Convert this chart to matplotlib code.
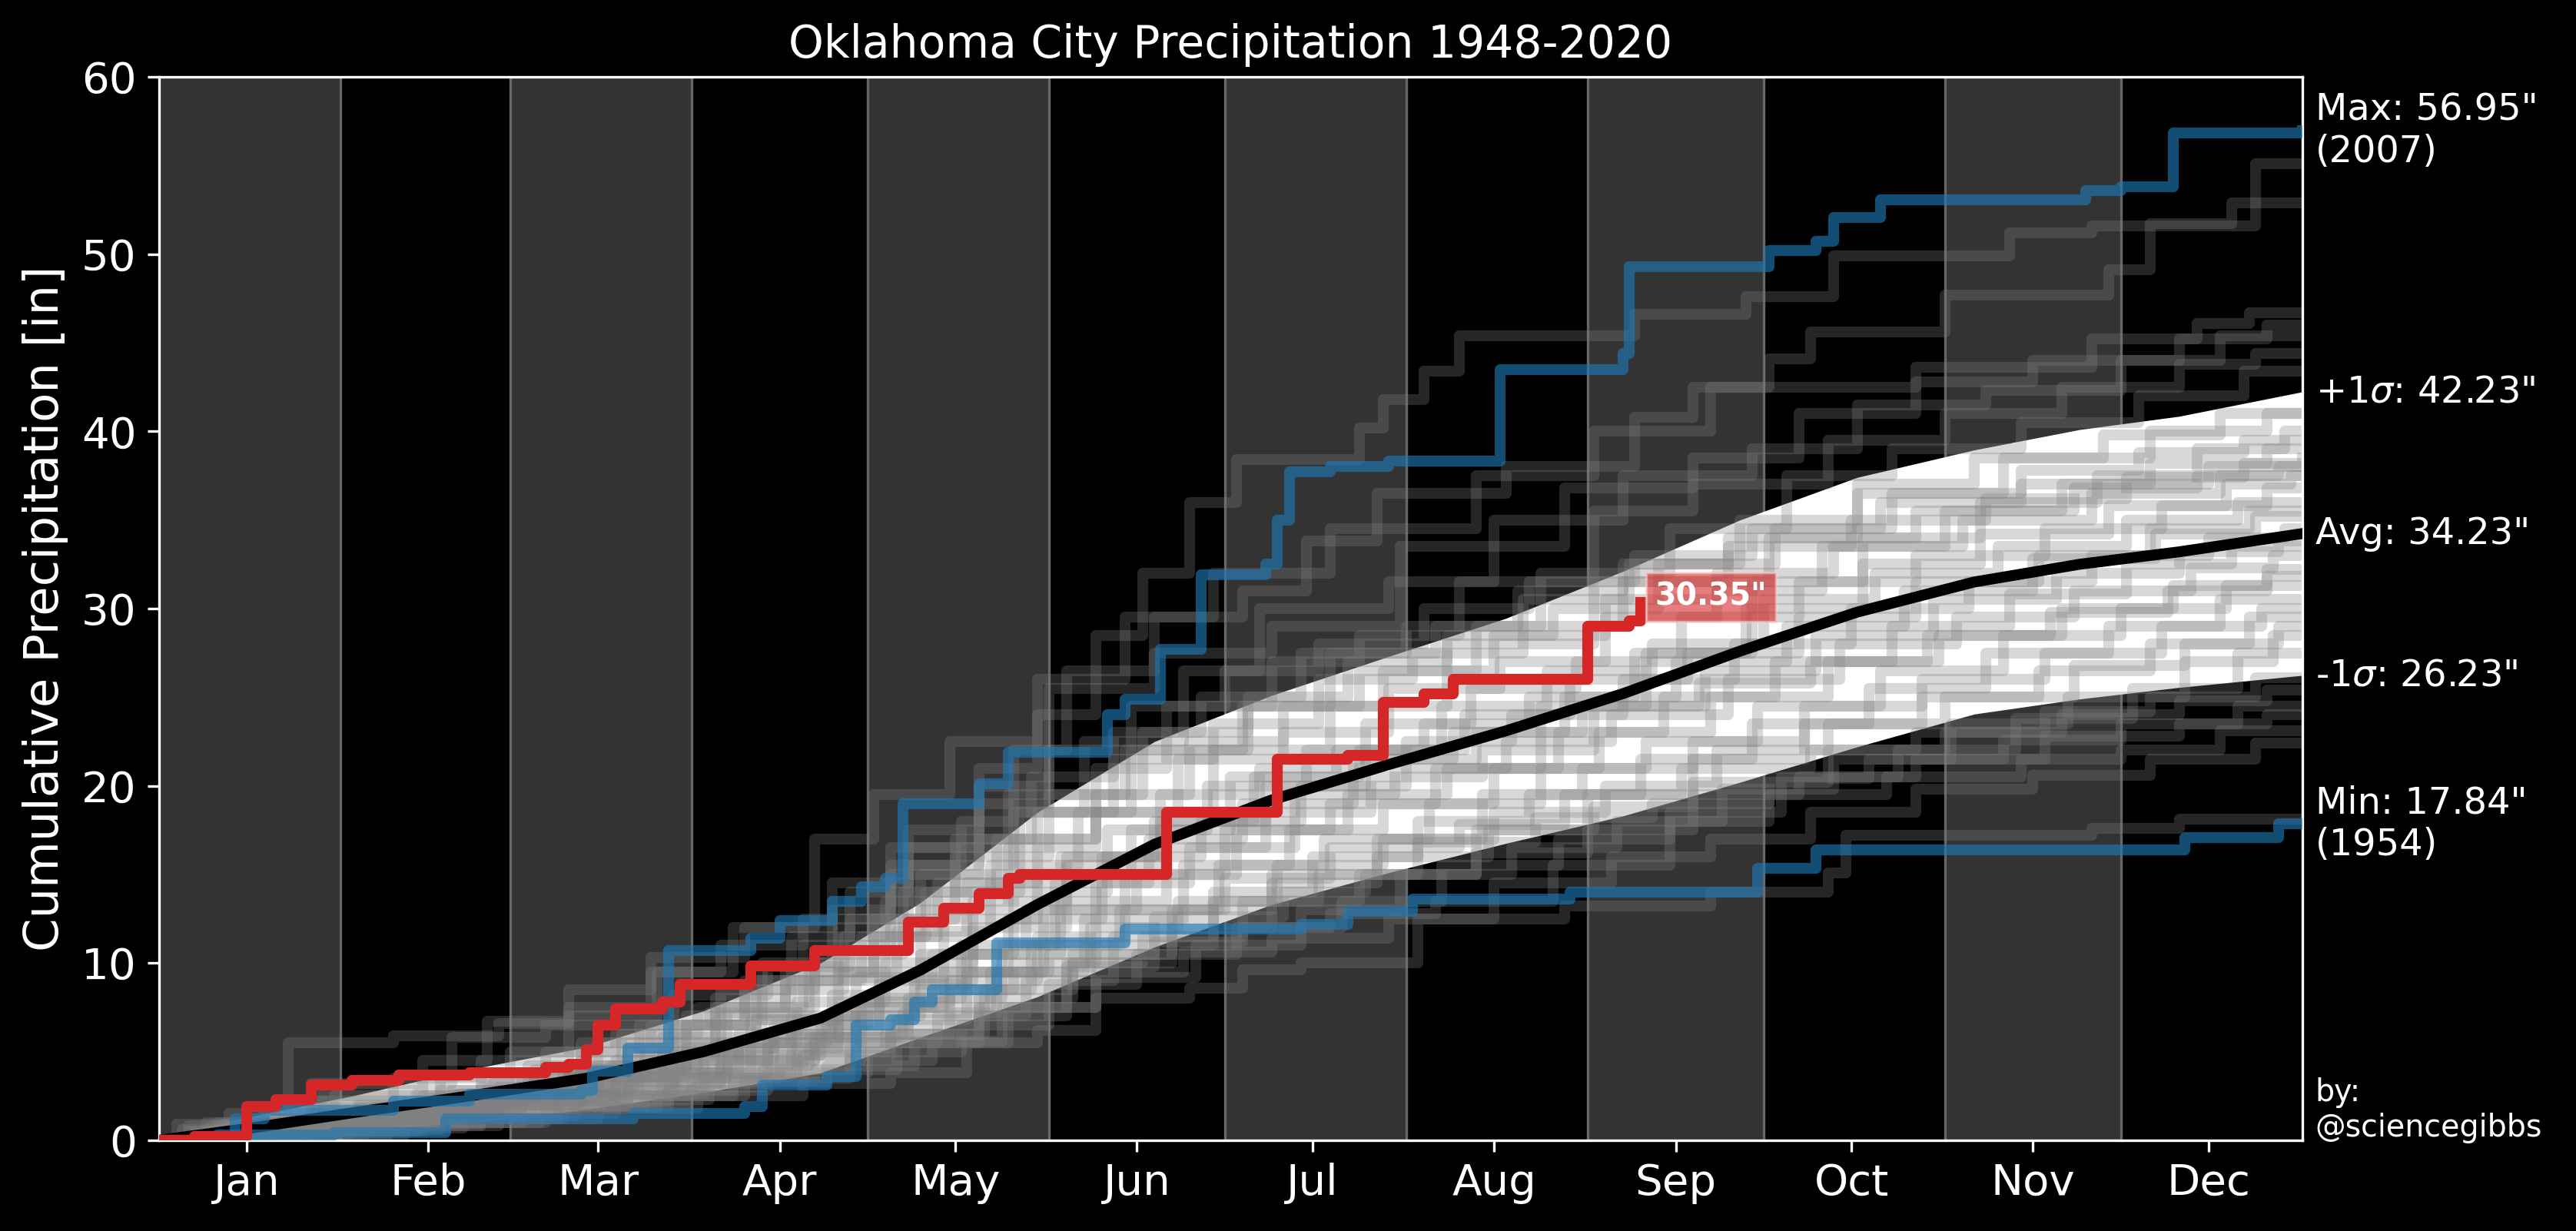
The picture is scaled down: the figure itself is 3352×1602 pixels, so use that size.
"""
Cumulative yearly precipitation for Oklahoma City, 1948-2020.
Every year as a faint gray step line, the mean +/- 1 std band in white,
the wettest / driest years in blue and the current year in red.
Values are day-of-year (0 = Jan 1) vs. cumulative inches.
"""
import numpy as np
import matplotlib.pyplot as plt

months = ['Jan', 'Feb', 'Mar', 'Apr', 'May', 'Jun',
          'Jul', 'Aug', 'Sep', 'Oct', 'Nov', 'Dec']
month_starts = [0, 31, 60, 91, 121, 152, 182, 213, 244, 274, 305, 335, 366]

# mean and standard deviation of the cumulative total
avg_days = [0, 8, 16, 33, 53, 73, 93, 113, 130, 150, 170, 190, 210, 230, 250,
            270, 290, 310, 328, 345, 366]
avg_vals = [0.0, 0.35, 0.7, 1.55, 2.5, 3.5, 5.0, 6.9, 9.6, 13.3, 16.7, 19.2,
            21.2, 23.1, 25.2, 27.6, 29.8, 31.5, 32.5, 33.2, 34.23]
std_vals = [0.0, 0.4, 0.65, 0.95, 1.5, 1.75, 2.3, 3.1, 3.8, 5.2, 5.8, 5.9,
            6.1, 6.35, 6.9, 7.4, 7.6, 7.45, 7.6, 7.65, 8.0]

# wettest year (2007)
max_days = [0, 13, 18, 40, 53, 72, 74, 80, 87, 101, 106, 115, 120, 124, 127,
            140, 145, 162, 165, 171, 178, 189, 191, 193, 200, 210, 229, 250,
            251, 275, 283, 286, 294, 329, 335, 344, 366]
max_vals = [0.0, 1.2, 1.7, 2.2, 2.6, 2.8, 3.9, 5.2, 10.7, 11.4, 12.4, 13.5,
            14.3, 14.8, 19.0, 20.1, 21.9, 24.0, 24.9, 27.7, 31.9, 32.5, 35.0,
            37.7, 38.0, 38.3, 43.5, 44.4, 49.3, 50.2, 50.7, 52.05, 53.05,
            53.6, 53.8, 56.85, 56.95]

# driest year (1954)
min_days = [0, 10, 30, 49, 81, 100, 103, 114, 119, 125, 129, 132, 143, 165,
            195, 203, 214, 241, 273, 283, 346, 362, 366]
min_vals = [0.0, 0.3, 0.45, 1.2, 1.5, 1.9, 3.1, 3.6, 6.5, 6.8, 7.8, 8.5,
            11.15, 11.9, 12.2, 12.9, 13.6, 14.0, 15.35, 16.4, 17.1, 17.84,
            17.84]

# current year (2020), through early September
cur_days = [0, 6, 15, 20, 26, 33, 41, 53, 66, 70, 73, 75, 78, 86, 89, 101,
            112, 128, 134, 140, 145, 147, 172, 191, 203, 209, 216, 221, 244,
            251, 253]
cur_vals = [0.0, 0.2, 1.9, 2.3, 3.1, 3.4, 3.7, 3.8, 4.1, 4.3, 5.1, 6.5, 7.4,
            7.8, 8.8, 9.85, 10.7, 12.3, 13.1, 13.9, 14.8, 15.0, 18.5, 21.5,
            21.7, 24.7, 25.2, 26.0, 29.0, 29.3, 30.35]

# all the other years, (day, cumulative) break points
other_years = [
    [(0, 0), (10, 0.8), (35, 1.5), (58, 3.0), (75, 5.5), (95, 8.0), (108, 11.5), (118, 14.0), (128, 17.5), (140, 21.0), (150, 24.0), (160, 28.5), (168, 32.0), (176, 36.0), (184, 38.4), (205, 40.2), (209, 41.8), (216, 43.4), (222, 45.4), (252, 46.6), (271, 47.6), (286, 49.9), (316, 51.2), (330, 51.6), (358, 55.1), (366, 55.1)],
    [(0, 0), (18, 1.2), (45, 2.5), (70, 4.0), (90, 6.5), (103, 10.0), (115, 13.0), (125, 15.5), (137, 18.0), (146, 22.0), (155, 26.5), (170, 29.5), (185, 31.0), (196, 33.8), (208, 36.5), (230, 38.0), (252, 40.8), (262, 42.5), (275, 44.1), (282, 45.6), (305, 47.7), (333, 49.1), (340, 51.7), (354, 52.9), (366, 52.9)],
    [(0, 0), (12, 1.5), (30, 2.5), (55, 4.5), (70, 7.0), (85, 9.5), (98, 12.0), (112, 17.0), (122, 19.5), (135, 22.5), (150, 26.0), (165, 29.5), (180, 32.0), (200, 34.5), (225, 37.5), (245, 40.0), (265, 42.5), (300, 43.6), (330, 45.2), (348, 46.1), (357, 46.7), (366, 46.7)],
    [(0, 0), (20, 0.8), (40, 2.2), (62, 3.5), (80, 5.0), (95, 7.5), (110, 11.0), (125, 16.5), (140, 20.0), (152, 25.5), (170, 27.5), (190, 29.0), (212, 33.5), (240, 36.8), (262, 38.5), (280, 41.0), (300, 42.8), (320, 44.0), (345, 45.2), (360, 46.0), (366, 46.0)],
    [(0, 0), (8, 1.0), (26, 3.2), (50, 5.8), (66, 6.5), (88, 8.2), (104, 9.8), (118, 12.5), (130, 15.0), (146, 18.5), (158, 22.5), (175, 26.5), (188, 30.0), (210, 31.5), (228, 35.0), (250, 37.5), (272, 39.0), (290, 41.5), (312, 42.3), (335, 44.0), (352, 45.4), (366, 45.4)],
    [(0, 0), (15, 0.5), (40, 1.5), (60, 2.5), (78, 4.5), (96, 8.5), (112, 10.5), (127, 14.0), (143, 17.0), (160, 21.0), (172, 24.5), (190, 27.0), (205, 28.5), (222, 31.5), (245, 35.5), (262, 37.0), (285, 39.5), (305, 41.0), (325, 42.5), (345, 43.8), (358, 44.4), (366, 44.4)],
    [(0, 0), (22, 1.8), (48, 2.8), (64, 4.0), (82, 6.5), (100, 9.0), (120, 11.5), (133, 14.5), (150, 18.5), (166, 22.0), (186, 24.5), (200, 27.5), (218, 29.0), (236, 32.0), (258, 34.5), (278, 37.5), (296, 39.0), (318, 40.5), (338, 42.0), (356, 43.4), (366, 43.4)],
    [(0, 0), (5, 0.5), (18, 1.5), (22, 5.5), (40, 5.9), (58, 6.6), (70, 7.5), (84, 9.5), (96, 11.0), (110, 12.5), (125, 15.0), (140, 17.0), (160, 18.5), (180, 22.0), (200, 24.5), (220, 28.0), (245, 31.5), (268, 34.0), (290, 36.5), (315, 38.5), (340, 40.0), (360, 41.0), (366, 41.0)],
    [(0, 0), (10, 1.0), (28, 2.8), (45, 4.5), (56, 6.7), (70, 8.5), (84, 10.3), (100, 12.0), (115, 14.5), (128, 16.5), (145, 19.5), (165, 22.0), (185, 24.5), (205, 26.5), (225, 29.0), (250, 31.5), (275, 34.0), (300, 35.5), (325, 37.0), (350, 38.0), (366, 38.5)],
    [(0, 0), (12, 0.3), (35, 0.8), (55, 1.2), (75, 1.8), (92, 2.5), (110, 3.2), (125, 3.8), (138, 5.5), (150, 6.2), (160, 8.0), (176, 8.6), (185, 9.6), (195, 10.0), (215, 12.5), (240, 13.2), (265, 14.0), (285, 15.1), (288, 17.2), (330, 17.6), (345, 18.1), (366, 18.1)],
    [(0, 0), (20, 0.5), (45, 1.0), (65, 1.8), (85, 2.5), (100, 3.5), (118, 4.5), (132, 5.5), (145, 7.5), (160, 9.5), (175, 10.6), (190, 11.4), (210, 12.5), (228, 14.5), (248, 16.0), (265, 17.0), (282, 18.5), (300, 19.8), (320, 20.6), (340, 21.5), (358, 22.4), (366, 22.4)],
    [(0, 0), (8, 0.4), (30, 1.2), (52, 2.0), (72, 2.8), (92, 3.6), (108, 5.0), (124, 6.0), (140, 7.0), (155, 10.0), (168, 11.5), (185, 12.0), (200, 12.8), (218, 13.5), (238, 15.5), (258, 18.0), (275, 19.5), (295, 20.5), (318, 21.5), (335, 22.0), (352, 23.1), (366, 23.1)],
    [(0, 0), (15, 0.7), (38, 1.5), (58, 2.2), (78, 3.2), (96, 4.5), (112, 5.8), (126, 6.8), (138, 9.5), (152, 10.5), (170, 12.6), (192, 14.0), (206, 15.0), (225, 16.2), (244, 17.5), (262, 19.5), (280, 20.5), (300, 21.5), (322, 22.8), (345, 23.5), (360, 24.0), (366, 24.0)],
    [(0, 0), (25, 0.6), (48, 1.6), (68, 2.6), (88, 3.8), (104, 5.5), (116, 7.0), (130, 8.5), (146, 10.0), (160, 11.0), (180, 13.5), (198, 15.0), (215, 16.8), (235, 18.2), (255, 19.0), (275, 20.4), (292, 21.5), (315, 22.6), (335, 23.5), (355, 24.5), (366, 24.5)],
    [(0, 0), (5, 0.8), (28, 1.6), (50, 2.8), (70, 3.6), (90, 5.2), (105, 6.0), (120, 7.8), (135, 9.0), (150, 11.5), (165, 13.0), (182, 14.8), (200, 16.5), (222, 17.8), (240, 19.5), (260, 21.0), (282, 22.0), (300, 23.0), (325, 24.0), (345, 24.8), (360, 25.4), (366, 25.4)],
    [(0, 0), (14, 0.5), (36, 1.0), (62, 2.0), (80, 2.8), (98, 3.4), (112, 4.0), (126, 5.5), (140, 7.5), (155, 9.8), (170, 11.2), (185, 13.5), (205, 15.0), (225, 17.5), (245, 18.8), (262, 20.2), (285, 22.0), (305, 23.0), (322, 24.2), (340, 25.0), (358, 26.1), (366, 26.1)],
    [(0, 0), (9, 0.8), (27, 2.2), (48, 3.6), (66, 5.0), (84, 6.5), (100, 8.5), (117, 11.5), (131, 14.0), (147, 18.5), (163, 21.5), (180, 23.5), (198, 26.0), (214, 27.5), (233, 30.5), (251, 32.5), (270, 35.0), (290, 37.0), (310, 38.5), (332, 39.8), (352, 41.0), (366, 41.0)],
    [(0, 0), (16, 1.2), (34, 2.0), (57, 3.2), (72, 5.5), (90, 7.0), (107, 9.0), (122, 12.5), (136, 16.0), (152, 19.5), (168, 23.0), (186, 25.0), (203, 27.0), (220, 28.5), (238, 30.0), (256, 32.5), (276, 34.5), (296, 36.5), (318, 37.8), (338, 38.8), (356, 39.5), (366, 39.5)],
    [(0, 0), (6, 0.4), (24, 1.5), (44, 2.6), (63, 4.2), (79, 6.0), (94, 7.2), (111, 9.5), (126, 11.8), (142, 15.5), (157, 18.5), (174, 21.5), (192, 23.0), (210, 25.5), (229, 27.0), (247, 29.5), (266, 31.0), (284, 33.5), (305, 35.5), (327, 36.8), (348, 37.5), (362, 38.0), (366, 38.0)],
    [(0, 0), (19, 0.7), (38, 1.8), (61, 3.0), (77, 4.2), (95, 5.5), (109, 7.8), (124, 10.0), (139, 13.5), (155, 16.0), (171, 19.5), (188, 21.0), (206, 23.5), (224, 25.5), (242, 27.0), (260, 29.5), (280, 31.5), (300, 33.0), (322, 34.5), (342, 35.8), (360, 36.8), (366, 36.8)],
    [(0, 0), (11, 0.9), (31, 1.6), (51, 2.6), (69, 3.8), (86, 5.8), (102, 6.8), (119, 9.2), (134, 12.5), (150, 15.0), (166, 17.5), (183, 20.5), (201, 22.0), (219, 24.5), (237, 26.5), (255, 28.0), (274, 30.5), (293, 32.0), (314, 33.5), (336, 35.0), (355, 36.0), (366, 36.0)],
    [(0, 0), (13, 0.5), (29, 1.3), (53, 2.3), (74, 3.4), (89, 4.6), (105, 6.5), (121, 8.0), (137, 11.0), (153, 14.5), (169, 17.0), (185, 19.0), (204, 21.5), (221, 23.0), (240, 25.0), (259, 27.0), (278, 29.0), (298, 31.0), (320, 32.8), (341, 34.2), (358, 35.2), (366, 35.2)],
    [(0, 0), (7, 0.3), (22, 1.0), (46, 2.0), (67, 2.9), (82, 4.0), (99, 5.5), (114, 7.0), (129, 9.5), (145, 12.5), (161, 16.0), (178, 18.0), (195, 20.0), (213, 22.5), (231, 24.0), (250, 26.0), (269, 28.0), (289, 30.0), (309, 31.5), (330, 33.0), (350, 34.0), (363, 34.5), (366, 34.5)],
    [(0, 0), (17, 1.0), (37, 1.9), (59, 2.7), (76, 3.9), (93, 5.0), (108, 6.2), (123, 8.8), (138, 10.5), (154, 13.5), (172, 16.5), (189, 18.5), (207, 20.5), (226, 22.0), (245, 24.5), (264, 26.5), (283, 28.5), (303, 30.5), (324, 32.0), (345, 33.2), (362, 33.8), (366, 33.8)],
    [(0, 0), (4, 0.6), (21, 1.1), (42, 2.1), (64, 3.0), (81, 3.6), (97, 4.8), (113, 6.5), (128, 8.0), (144, 11.0), (160, 14.5), (176, 16.5), (194, 19.5), (211, 21.0), (230, 22.5), (248, 24.0), (268, 26.0), (287, 28.0), (307, 29.5), (327, 31.0), (347, 32.3), (361, 33.0), (366, 33.0)],
    [(0, 0), (23, 0.6), (41, 1.4), (63, 2.4), (80, 3.3), (96, 4.2), (111, 5.8), (127, 7.2), (143, 9.5), (158, 12.5), (175, 15.5), (193, 17.5), (209, 19.0), (228, 21.0), (246, 23.0), (265, 25.0), (285, 27.0), (304, 28.5), (325, 30.0), (344, 31.3), (360, 32.2), (366, 32.2)],
    [(0, 0), (12, 0.4), (33, 0.9), (55, 1.8), (73, 2.5), (91, 3.5), (106, 4.6), (120, 6.0), (135, 8.5), (149, 11.0), (164, 13.0), (181, 15.5), (199, 17.0), (217, 19.0), (236, 21.0), (254, 22.5), (273, 24.5), (294, 26.5), (315, 28.5), (335, 30.0), (353, 31.3), (366, 31.3)],
    [(0, 0), (10, 0.3), (30, 0.7), (52, 1.4), (71, 2.2), (87, 3.0), (103, 4.0), (118, 5.5), (133, 7.0), (148, 9.0), (163, 11.5), (180, 14.0), (197, 16.0), (215, 18.0), (234, 19.5), (253, 21.5), (272, 23.5), (292, 25.5), (312, 27.5), (333, 29.0), (352, 30.5), (366, 30.5)],
    [(0, 0), (14, 0.2), (39, 0.8), (58, 1.5), (78, 2.3), (94, 3.2), (110, 4.8), (125, 6.0), (141, 8.5), (156, 10.0), (173, 12.0), (190, 14.5), (208, 16.0), (227, 17.5), (244, 19.5), (262, 21.5), (281, 23.5), (301, 25.0), (321, 26.5), (340, 28.0), (357, 29.5), (366, 29.5)],
    [(0, 0), (18, 0.3), (42, 1.0), (66, 1.9), (83, 2.5), (98, 3.3), (114, 4.2), (129, 5.6), (144, 7.5), (160, 9.2), (177, 11.0), (195, 13.0), (212, 15.0), (231, 16.5), (249, 18.0), (267, 19.8), (286, 21.5), (306, 23.5), (326, 25.0), (346, 27.0), (361, 28.5), (366, 28.5)],
    [(0, 0), (26, 0.5), (49, 1.2), (69, 1.9), (87, 2.8), (104, 3.8), (121, 5.0), (137, 6.5), (152, 8.8), (167, 10.5), (184, 12.0), (202, 13.5), (219, 15.5), (239, 17.0), (258, 18.5), (277, 20.5), (297, 22.0), (317, 23.8), (337, 25.5), (355, 27.5), (366, 27.5)],
    [(0, 0), (20, 0.5), (44, 1.2), (68, 2.5), (86, 3.8), (101, 5.2), (116, 7.5), (132, 10.5), (148, 13.0), (165, 15.0), (182, 17.5), (200, 19.0), (218, 21.0), (236, 24.5), (254, 27.5), (272, 31.5), (291, 34.0), (311, 36.0), (331, 37.5), (348, 39.0), (363, 40.0), (366, 40.0)],
    [(0, 0), (3, 0.9), (20, 2.2), (40, 3.5), (60, 5.0), (78, 6.0), (92, 7.5), (107, 9.5), (122, 11.5), (138, 14.5), (154, 16.0), (170, 18.0), (189, 20.0), (206, 21.5), (225, 23.0), (243, 24.5), (263, 25.8), (282, 27.0), (302, 28.5), (323, 29.8), (343, 31.0), (360, 31.8), (366, 31.8)],
    [(0, 0), (8, 0.6), (25, 1.2), (47, 2.3), (65, 3.5), (83, 4.8), (99, 6.0), (115, 8.2), (130, 10.5), (146, 14.0), (162, 17.5), (179, 20.0), (196, 22.0), (216, 23.5), (234, 25.0), (252, 27.5), (271, 30.0), (291, 32.5), (311, 34.2), (333, 35.8), (353, 37.0), (364, 37.5), (366, 37.5)],
    [(0, 0), (15, 0.8), (36, 1.6), (56, 2.9), (75, 4.2), (92, 5.5), (108, 7.0), (123, 9.0), (139, 12.0), (155, 15.5), (171, 18.0), (187, 20.5), (205, 22.0), (223, 24.0), (241, 26.0), (261, 27.5), (280, 29.5), (300, 31.5), (321, 33.0), (340, 34.5), (357, 35.5), (366, 35.5)],
    [(0, 0), (21, 0.9), (43, 1.7), (62, 2.7), (79, 3.5), (97, 4.4), (112, 5.5), (128, 7.5), (142, 9.5), (159, 12.0), (174, 13.5), (191, 15.5), (209, 17.0), (228, 18.5), (247, 20.0), (266, 22.0), (285, 23.5), (305, 25.0), (327, 26.8), (346, 28.0), (362, 29.0), (366, 29.0)],
    [(0, 0), (9, 0.5), (32, 1.4), (54, 2.2), (72, 3.2), (88, 4.5), (104, 5.8), (119, 7.5), (134, 9.5), (151, 13.0), (167, 15.0), (184, 17.5), (203, 19.5), (220, 21.0), (239, 23.0), (257, 25.0), (276, 27.0), (296, 29.0), (316, 30.8), (336, 32.5), (354, 33.5), (366, 33.5)],
    [(0, 0), (17, 0.5), (35, 1.3), (58, 2.0), (76, 2.6), (93, 3.8), (109, 5.2), (125, 6.5), (140, 8.0), (156, 10.5), (173, 13.0), (190, 15.0), (208, 17.0), (226, 19.5), (243, 21.0), (262, 22.5), (281, 24.5), (301, 26.0), (322, 27.5), (342, 29.0), (359, 30.0), (366, 30.0)],
    [(0, 0), (14, 0.8), (34, 1.8), (55, 3.0), (72, 4.5), (88, 6.5), (102, 9.0), (116, 12.0), (128, 15.5), (140, 19.0), (152, 22.0), (166, 24.5), (182, 26.5), (198, 28.0), (216, 30.0), (234, 31.5), (252, 33.0), (272, 34.5), (294, 36.0), (318, 37.0), (340, 38.2), (360, 39.0), (366, 39.0)],
    [(0, 0), (6, 0.5), (26, 1.5), (46, 2.4), (64, 3.8), (80, 5.2), (97, 7.5), (112, 10.0), (124, 13.5), (136, 17.0), (149, 20.5), (163, 23.0), (178, 25.0), (195, 27.5), (213, 29.0), (232, 31.0), (250, 32.5), (268, 33.5), (289, 35.0), (312, 36.2), (336, 37.4), (356, 38.2), (366, 38.2)],
    [(0, 0), (11, 0.6), (30, 1.4), (52, 2.6), (70, 3.6), (86, 5.0), (101, 6.8), (116, 9.5), (130, 13.0), (145, 16.5), (160, 19.5), (176, 22.5), (192, 24.5), (209, 26.5), (228, 28.5), (247, 30.5), (266, 32.0), (286, 33.5), (308, 35.0), (330, 36.5), (352, 37.5), (366, 37.5)],
]

fig, ax = plt.subplots(figsize=(3353 / 300, 1602 / 300), dpi=300)
fig.patch.set_facecolor('black')
ax.set_facecolor('black')
fig.subplots_adjust(left=0.0617, right=0.8935, top=0.9376, bottom=0.0737)

# alternating month shading + month boundary lines
for i in range(12):
    if i % 2 == 0:
        ax.axvspan(month_starts[i], month_starts[i + 1], color='#333333', lw=0, zorder=0)
for d in month_starts[1:-1]:
    ax.axvline(d, color='#666666', lw=0.8, zorder=0.5)

# +/- 1 sigma band
avg = np.array(avg_vals)
std = np.array(std_vals)
ax.fill_between(avg_days, avg - std, avg + std, color='white', lw=0, zorder=1)

# every other year
for yr in other_years:
    d, v = zip(*yr)
    ax.step(d, v, where='post', color='gray', alpha=0.3, lw=3.4, zorder=2)

lw = 3.4
ax.plot(avg_days, avg_vals, color='black', lw=lw, zorder=3)
ax.step(max_days, max_vals, where='post', color='#1f77b4', alpha=0.65, lw=lw, zorder=4)
ax.step(min_days, min_vals, where='post', color='#1f77b4', alpha=0.65, lw=lw, zorder=4)
ax.step(cur_days, cur_vals, where='post', color='#d62728', lw=lw, zorder=5)

ax.text(cur_days[-1] + 2.5, cur_vals[-1] + 0.3, '%.2f"' % cur_vals[-1],
        color='white', fontsize=9.5, fontweight='bold', va='center', ha='left',
        zorder=6,
        bbox=dict(boxstyle='square,pad=0.3', facecolor='#d62728', alpha=0.6,
                  edgecolor='#ffd0d0', lw=0.8))

# labels right of the axes
end_avg = avg_vals[-1]
end_std = std_vals[-1]
right_labels = [
    (max_vals[-1], 'Max: %.2f"\n(2007)' % max_vals[-1]),
    (end_avg + end_std, '+1$\\sigma$: %.2f"' % (end_avg + end_std)),
    (end_avg, 'Avg: %.2f"' % end_avg),
    (end_avg - end_std, '-1$\\sigma$: %.2f"' % (end_avg - end_std)),
    (min_vals[-1], 'Min: %.2f"\n(1954)' % min_vals[-1]),
]
for y, s in right_labels:
    ax.annotate(s, xy=(1, y), xycoords=('axes fraction', 'data'),
                xytext=(4, 0), textcoords='offset points',
                color='white', fontsize=11.5, va='center', ha='left')
ax.annotate('by:\n@sciencegibbs', xy=(1, 0), xycoords='axes fraction',
            xytext=(4, -1), textcoords='offset points',
            color='white', fontsize=9.5, va='bottom', ha='left')

ax.set_xlim(0, 366)
ax.set_ylim(0, 60)
ax.set_xticks([m + 15 for m in month_starts[:-1]])
ax.set_xticklabels(months)
ax.set_yticks(range(0, 61, 10))
ax.tick_params(colors='white', labelsize=13.5)
for sp in ax.spines.values():
    sp.set_color('white')
ax.set_ylabel('Cumulative Precipitation [in]', color='white', fontsize=15)
ax.set_title('Oklahoma City Precipitation 1948-2020', color='white', fontsize=14)

fig.savefig('out.png', dpi=300, facecolor='black')
